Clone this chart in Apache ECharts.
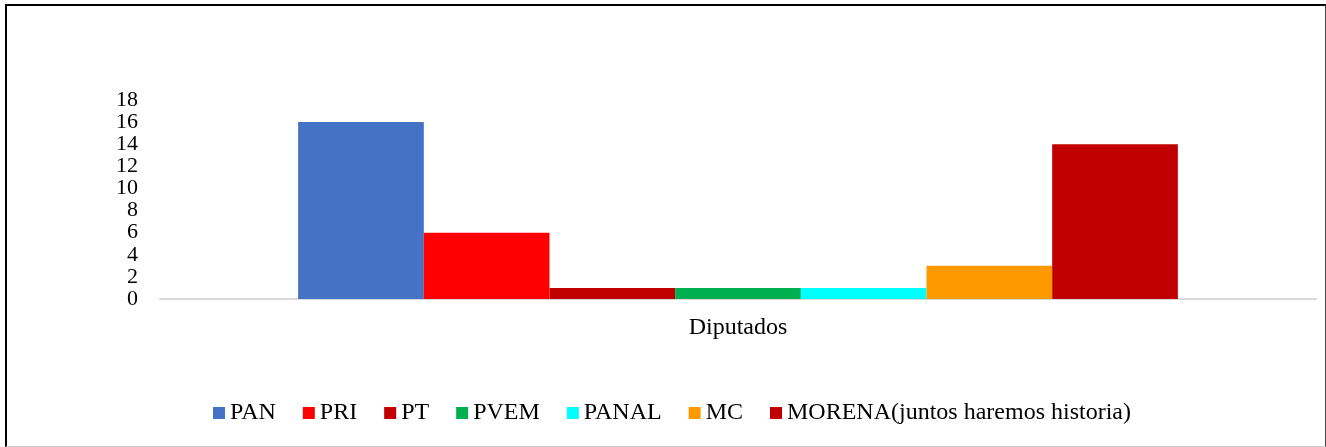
<!DOCTYPE html>
<html>
<head>
<meta charset="utf-8">
<script src="https://cdn.jsdelivr.net/npm/echarts@6/dist/echarts.min.js"></script>
<style>
html,body{margin:0;padding:0;background:#fff;}
#frame{position:absolute;left:5px;top:4px;width:1321px;height:443px;border-left:2px solid #000;border-top:2px solid #000;border-right:1px solid #444;border-bottom:1px solid #ccc;box-sizing:border-box;}
#chart{position:absolute;left:0;top:0;width:1326px;height:447px;}
</style>
</head>
<body>
<div id="frame"></div>
<div id="chart"></div>
<script>
const categories = ['Diputados'];
const seriesNames = ['PAN', 'PRI', 'PT', 'PVEM', 'PANAL', 'MC', 'MORENA(juntos haremos historia)'];
const seriesValues = [[16], [6], [1], [1], [1], [3], [14]];
const seriesColors = ['#4472C4', '#FF0000', '#C00000', '#00B050', '#00FFFF', '#FF9900', '#C00000'];
const yTicks = [0, 2, 4, 6, 8, 10, 12, 14, 16, 18];

const font = '"Liberation Serif", "Times New Roman", serif';
const chart = echarts.init(document.getElementById('chart'), null, {renderer: 'canvas'});
chart.setOption({
  backgroundColor: 'transparent',
  animation: false,
  textStyle: {fontFamily: font},
  grid: {left: 160, right: 10, top: 100, bottom: 148, containLabel: false},
  legend: {
    left: 208, top: 396,
    itemWidth: 12, itemHeight: 12, itemGap: 27,
    icon: 'rect',
    textStyle: {fontFamily: font, fontSize: 24, color: '#000'},
    data: seriesNames
  },
  xAxis: {
    type: 'category',
    data: categories,
    axisLine: {lineStyle: {color: '#d9d9d9', width: 2}},
    axisTick: {show: false},
    axisLabel: {fontFamily: font, fontSize: 24, color: '#000', margin: 17}
  },
  yAxis: {
    type: 'value',
    min: yTicks[0], max: yTicks[yTicks.length - 1], interval: 2,
    axisLine: {show: false},
    axisTick: {show: false},
    splitLine: {show: false},
    axisLabel: {fontFamily: font, fontSize: 22, color: '#000', margin: 22, showMinLabel: true, showMaxLabel: true}
  },
  series: seriesNames.map((n, i) => ({
    name: n,
    type: 'bar',
    data: seriesValues[i],
    barGap: '0%',
    barCategoryGap: '23.9%',
    itemStyle: {color: seriesColors[i]}
  }))
});
</script>
</body>
</html>
